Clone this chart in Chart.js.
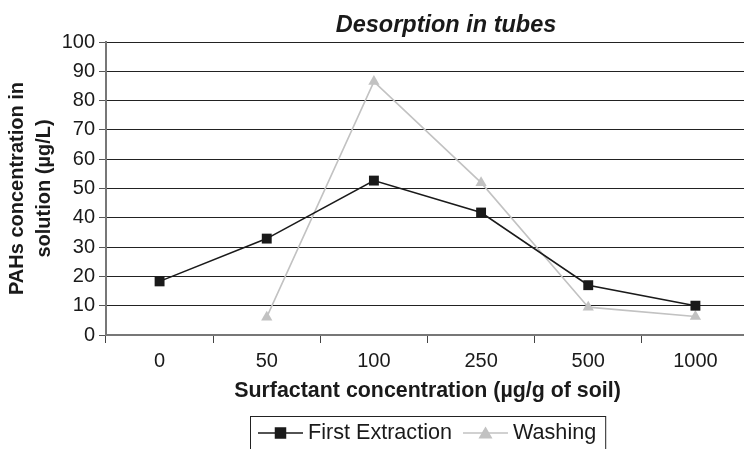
<!DOCTYPE html>
<html>
<head>
<meta charset="utf-8">
<title>Desorption in tubes</title>
<script src="https://cdn.jsdelivr.net/npm/chart.js@4/dist/chart.umd.min.js"></script>
<style>
  html, body { margin: 0; padding: 0; background: #fff; overflow: hidden; }
  #wrap { width: 756px; height: 449px; }
</style>
</head>
<body>
<div id="wrap"><canvas id="chart" width="756" height="449"></canvas></div>
<script>
// surfactant concentrations (µg/g of soil)
const categories = ["0", "50", "100", "250", "500", "1000"];
// PAHs concentration in solution (µg/L)
const firstExtraction = [18.3, 32.9, 52.7, 41.8, 17.0, 10.0];
const washing = [null, 6.1, 86.5, 52.0, 9.5, 6.3];
const yTicks = [0, 10, 20, 30, 40, 50, 60, 70, 80, 90, 100];

const FONT = "'Liberation Sans', Arial, Helvetica, sans-serif";
const INK = "#1a1a1a";
const GREY = "#c2c2c2";

// chart title drawn above the plot
const titlePlugin = {
    id: "topTitle",
    afterDraw(chart) {
        const ctx = chart.ctx;
        ctx.save();
        ctx.font = "italic bold 23.5px " + FONT;
        ctx.fillStyle = INK;
        ctx.textAlign = "center";
        ctx.textBaseline = "alphabetic";
        ctx.fillText("Desorption in tubes", 446, 32);
        ctx.restore();
    }
};

// boxed legend with line + marker samples, like the original
const boxedLegend = {
    id: "boxedLegend",
    afterDraw(chart) {
        const ctx = chart.ctx;
        const y = 433;
        let x = 258;
        ctx.save();
        ctx.font = "21.6px " + FONT;
        ctx.textBaseline = "middle";
        ctx.textAlign = "left";
        chart.data.datasets.forEach((ds, i) => {
            ctx.strokeStyle = ds.borderColor;
            ctx.lineWidth = 1.6;
            ctx.beginPath();
            ctx.moveTo(x, y);
            ctx.lineTo(x + 45, y);
            ctx.stroke();
            Chart.helpers.drawPoint(ctx, {
                pointStyle: ds.pointStyle,
                radius: ds.pointRadius,
                rotation: 0,
                borderWidth: 1
            }, x + 22.5, ds.pointStyle === "triangle" ? y + 1.5 : y);
            ctx.fillStyle = ds.pointBackgroundColor;
            ctx.fill();
            ctx.fillStyle = INK;
            ctx.fillText(ds.label, x + 50, y);
            x += 50 + ctx.measureText(ds.label).width + 11;
        });
        ctx.strokeStyle = "#222";
        ctx.lineWidth = 1;
        ctx.strokeRect(250.5, 416.5, x - 250 - 2, 40);
        ctx.restore();
    }
};

new Chart(document.getElementById("chart"), {
    type: "line",
    data: {
        labels: categories,
        datasets: [
            {
                label: "First Extraction",
                data: firstExtraction,
                borderColor: INK,
                backgroundColor: INK,
                pointBackgroundColor: INK,
                pointBorderColor: INK,
                pointStyle: "rect",
                pointRadius: 7,
                pointBorderWidth: 0,
                borderWidth: 1.6,
                tension: 0
            },
            {
                label: "Washing",
                data: washing,
                borderColor: GREY,
                backgroundColor: GREY,
                pointBackgroundColor: GREY,
                pointBorderColor: GREY,
                pointStyle: "triangle",
                pointRadius: 6.5,
                pointBorderWidth: 0,
                borderWidth: 1.6,
                tension: 0
            }
        ]
    },
    options: {
        responsive: false,
        animation: false,
        devicePixelRatio: 1,
        layout: { padding: { top: 42, right: 5, bottom: 0, left: 0 } },
        plugins: {
            legend: { display: false },
            title: { display: false },
            tooltip: { enabled: false }
        },
        scales: {
            x: {
                offset: true,
                afterFit: scale => { scale.height = 114; },
                grid: {
                    offset: true,
                    drawOnChartArea: false,
                    drawTicks: true,
                    tickLength: 8,
                    tickColor: "#444"
                },
                border: { color: "#777", width: 2 },
                ticks: {
                    padding: 6,
                    color: INK,
                    font: { family: FONT, size: 20 }
                },
                title: {
                    display: true,
                    text: "Surfactant concentration (µg/g of soil)",
                    color: INK,
                    font: { family: FONT, size: 21.4, weight: "bold" },
                    padding: { top: 0, bottom: 45 }
                }
            },
            y: {
                min: 0,
                max: 100,
                afterFit: scale => { scale.width = 106; },
                afterBuildTicks: scale => {
                    scale.ticks = yTicks.map(v => ({ value: v }));
                },
                grid: {
                    color: "#222",
                    lineWidth: 1,
                    tickLength: 7,
                    tickColor: "#555"
                },
                border: { color: "#777", width: 2 },
                ticks: {
                    padding: 4,
                    color: INK,
                    font: { family: FONT, size: 20 }
                },
                title: {
                    display: true,
                    text: ["PAHs concentration in", "solution (µg/L)"],
                    color: INK,
                    font: { family: FONT, size: 20, weight: "bold", lineHeight: 1.35 },
                    padding: { top: 4, bottom: 0 }
                }
            }
        }
    },
    plugins: [titlePlugin, boxedLegend]
});
</script>
</body>
</html>
